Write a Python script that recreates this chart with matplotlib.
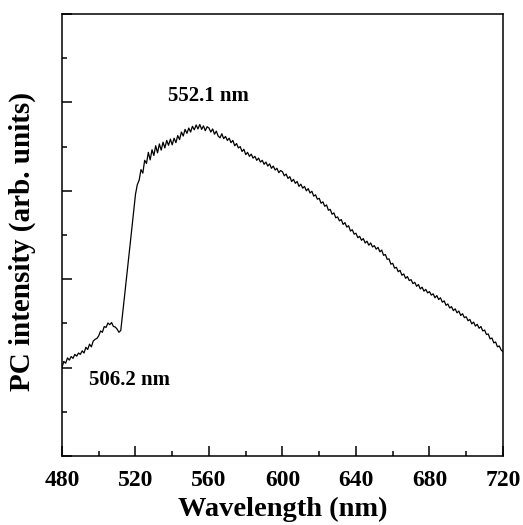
import numpy as np
import matplotlib
matplotlib.use("Agg")
from matplotlib import pyplot as plt
from matplotlib.ticker import MultipleLocator

# wavelength grid (nm), 1 nm step
wavelength = np.arange(480, 721, 1)

# photocurrent intensity (arb. units)
intensity = [
    2.00, 2.14, 2.10, 2.22, 2.17, 2.25, 2.21, 2.30, 2.26, 2.33,  # 480
    2.30, 2.38, 2.33, 2.46, 2.41, 2.53, 2.47, 2.60, 2.64, 2.66,  # 490
    2.72, 2.83, 2.80, 2.93, 2.91, 3.01, 2.97, 3.02, 2.93, 2.92,  # 500
    2.87, 2.80, 2.84, 3.21, 3.60, 3.98, 4.37, 4.76, 5.14, 5.53,  # 510
    5.92, 6.14, 6.24, 6.48, 6.40, 6.69, 6.62, 6.87, 6.70, 6.93,  # 520
    6.80, 7.02, 6.86, 7.06, 6.92, 7.10, 6.97, 7.14, 7.03, 7.17,  # 530
    7.04, 7.19, 7.09, 7.25, 7.16, 7.33, 7.24, 7.39, 7.30, 7.42,  # 540
    7.33, 7.46, 7.38, 7.49, 7.40, 7.50, 7.39, 7.47, 7.36, 7.45,  # 550
    7.42, 7.33, 7.40, 7.28, 7.35, 7.24, 7.20, 7.29, 7.18, 7.23,  # 560
    7.14, 7.19, 7.09, 7.14, 7.02, 7.07, 6.97, 7.00, 6.89, 6.94,  # 570
    6.82, 6.87, 6.78, 6.83, 6.74, 6.78, 6.69, 6.74, 6.65, 6.69,  # 580
    6.60, 6.65, 6.56, 6.61, 6.51, 6.56, 6.47, 6.51, 6.41, 6.46,  # 590
    6.43, 6.34, 6.38, 6.28, 6.32, 6.21, 6.26, 6.17, 6.21, 6.10,  # 600
    6.15, 6.06, 6.10, 6.00, 6.05, 5.95, 5.99, 5.88, 5.91, 5.81,  # 610
    5.83, 5.72, 5.75, 5.65, 5.68, 5.56, 5.58, 5.47, 5.50, 5.39,  # 620
    5.41, 5.32, 5.35, 5.24, 5.28, 5.18, 5.21, 5.09, 5.12, 5.02,  # 630
    5.04, 4.94, 4.97, 4.88, 4.92, 4.82, 4.86, 4.77, 4.82, 4.73,  # 640
    4.76, 4.68, 4.72, 4.62, 4.66, 4.54, 4.56, 4.45, 4.46, 4.34,  # 650
    4.36, 4.25, 4.27, 4.17, 4.20, 4.09, 4.12, 4.02, 4.06, 3.97,  # 660
    3.99, 3.90, 3.93, 3.84, 3.88, 3.78, 3.82, 3.73, 3.77, 3.69,  # 670
    3.72, 3.64, 3.67, 3.58, 3.63, 3.54, 3.58, 3.48, 3.51, 3.41,  # 680
    3.44, 3.35, 3.38, 3.29, 3.33, 3.24, 3.28, 3.18, 3.22, 3.13,  # 690
    3.15, 3.06, 3.09, 2.99, 3.03, 2.94, 2.98, 2.89, 2.93, 2.83,  # 700
    2.85, 2.75, 2.76, 2.65, 2.67, 2.56, 2.58, 2.47, 2.49, 2.40,  # 710
    2.36,                                                        # 720
]

peak_labels = ["552.1 nm", "506.2 nm"]
x_ticks = [480, 520, 560, 600, 640, 680, 720]

plt.rcParams['font.family'] = ['Liberation Serif', 'DejaVu Serif']
plt.rcParams['font.weight'] = 'bold'

fig = plt.figure(figsize=(5.23, 5.25), dpi=100)
ax = fig.add_axes([0.1185, 0.1314, 0.8432, 0.8419])

ax.plot(wavelength, intensity, color='black', lw=0.9)

ax.set_xlim(480, 720)
ax.set_ylim(0, 10)
ax.set_xticks(x_ticks)
ax.xaxis.set_minor_locator(MultipleLocator(20))
ax.yaxis.set_major_locator(MultipleLocator(2))
ax.yaxis.set_minor_locator(MultipleLocator(1))
ax.set_yticklabels([])

ax.tick_params(which='both', direction='in', top=False, right=False, width=1.1)
ax.tick_params(which='major', length=7, labelsize=17, pad=10)
ax.tick_params(which='minor', length=3.5)
for lbl in ax.get_xticklabels():
    lbl.set_fontweight('bold')
for s in ax.spines.values():
    s.set_linewidth(1.1)

# the label sits right at the bottom edge, keep it just inside
ax.set_xlabel("Wavelength (nm)", fontsize=20.5, fontweight='bold')
ax.xaxis.set_label_coords(0.5, -0.093)
ax.set_ylabel("PC intensity (arb. units)", fontsize=21, fontweight='bold')
ax.yaxis.set_label_coords(-0.058, 0.485)

ax.text(559.5, 8.15, peak_labels[0], fontsize=15, fontweight='bold', ha='center', va='center')
ax.text(516.7, 1.72, peak_labels[1], fontsize=15, fontweight='bold', ha='center', va='center')

fig.savefig("out.png", dpi=100)
